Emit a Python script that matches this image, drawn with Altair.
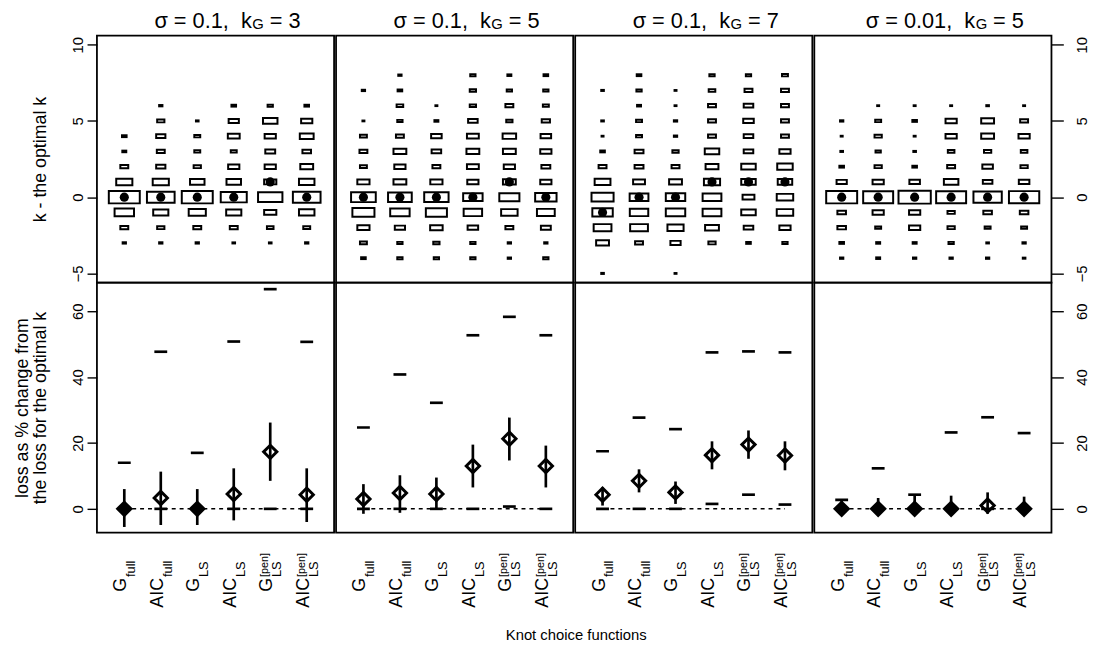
import altair as alt
import pandas as pd

FONT = "Liberation Sans"

METHODS = ["G_full", "AIC_full", "G_LS", "AIC_LS", "G_LS_pen", "AIC_LS_pen"]
LABEL_MAIN = ["G", "AIC", "G", "AIC", "G", "AIC"]
LABEL_SUB = ["full", "full", "LS", "LS", "LS", "LS"]
LABEL_SUP = ["", "", "", "", "[pen]", "[pen]"]

PANEL_SIGMA = ["0.1", "0.1", "0.1", "0.01"]
PANEL_KG = ["3", "5", "7", "5"]

K_VALUES = [-5, -4, -3, -2, -1, 0, 1, 2, 3, 4, 5, 6, 7, 8]

# frequency of (k - optimal k), aligned with K_VALUES
FREQ_P1 = {
    "G_full":     [0, 0, 10, 24, 59, 94, 49, 24, 12, 14, 0, 0, 0, 0],
    "AIC_full":   [0, 0, 10, 22, 46, 84, 49, 28, 24, 28, 22, 10, 0, 0],
    "G_LS":       [0, 0, 10, 24, 52, 94, 44, 22, 18, 18, 8, 0, 0, 0],
    "AIC_LS":     [0, 0, 8, 24, 46, 79, 44, 34, 18, 36, 31, 14, 0, 0],
    "G_LS_pen":   [0, 0, 8, 20, 37, 74, 37, 34, 30, 34, 44, 16, 0, 0],
    "AIC_LS_pen": [0, 0, 10, 21, 47, 84, 47, 39, 26, 42, 34, 14, 0, 0],
}
FREQ_P2 = {
    "G_full":     [0, 14, 21, 37, 67, 75, 37, 21, 24, 21, 6, 0, 10, 0],
    "AIC_full":   [0, 16, 16, 31, 59, 72, 39, 34, 39, 24, 16, 20, 14, 10],
    "G_LS":       [0, 16, 19, 38, 64, 74, 37, 24, 29, 32, 12, 6, 0, 0],
    "AIC_LS":     [0, 16, 16, 32, 56, 59, 34, 36, 39, 36, 29, 19, 19, 16],
    "G_LS_pen":   [0, 10, 10, 24, 50, 61, 39, 34, 39, 41, 19, 24, 16, 12],
    "AIC_LS_pen": [0, 16, 10, 30, 54, 65, 34, 27, 34, 32, 25, 18, 16, 14],
}
FREQ_P3 = {
    "G_full":     [8, 0, 39, 54, 62, 67, 48, 24, 14, 6, 8, 0, 8, 0],
    "AIC_full":   [0, 0, 24, 54, 56, 57, 36, 27, 27, 18, 18, 12, 16, 14],
    "G_LS":       [6, 0, 31, 49, 59, 59, 39, 24, 19, 10, 10, 6, 6, 0],
    "AIC_LS":     [0, 0, 22, 42, 57, 57, 49, 39, 44, 24, 24, 24, 20, 16],
    "G_LS_pen":   [0, 0, 14, 29, 44, 36, 44, 44, 29, 29, 32, 29, 24, 16],
    "AIC_LS_pen": [0, 0, 16, 34, 50, 50, 44, 47, 34, 24, 24, 24, 24, 18],
}
FREQ_P4 = {
    "G_full":     [0, 10, 14, 26, 26, 94, 31, 14, 8, 6, 10, 0, 0, 0],
    "AIC_full":   [0, 12, 12, 18, 34, 91, 34, 22, 16, 22, 18, 6, 0, 0],
    "G_LS":       [0, 10, 12, 34, 34, 98, 32, 14, 8, 6, 14, 6, 0, 0],
    "AIC_LS":     [0, 10, 16, 22, 22, 91, 44, 24, 20, 34, 34, 6, 0, 0],
    "G_LS_pen":   [0, 10, 8, 18, 26, 86, 29, 32, 22, 39, 39, 8, 0, 0],
    "AIC_LS_pen": [0, 8, 10, 18, 26, 92, 32, 22, 20, 34, 24, 6, 0, 0],
}
FREQS = [FREQ_P1, FREQ_P2, FREQ_P3, FREQ_P4]

MEDIAN_K = [
    [0, 0, 0, 0, 1, 0],
    [0, 0, 0, 0, 1, 0],
    [-1, 0, 0, 1, 1, 1],
    [0, 0, 0, 0, 0, 0],
]

LOSS_MEAN = [
    [0.0, 3.3, 0.0, 4.5, 17.3, 4.3],
    [3.0, 4.8, 4.5, 13.0, 21.3, 13.0],
    [4.3, 8.5, 5.0, 16.3, 19.5, 16.2],
    [0.0, 0.0, 0.0, 0.0, 1.0, 0.0],
]
LOSS_LO = [
    [-5.5, -4.9, -4.9, -3.5, 8.5, -4.0],
    [-1.5, -1.2, 0.0, 6.5, 14.7, 6.5],
    [1.0, 5.0, 1.5, 12.0, 15.2, 11.7],
    [-1.5, -1.5, -1.5, -1.5, -1.5, -1.5],
]
LOSS_HI = [
    [6.0, 11.3, 6.0, 12.3, 26.2, 12.3],
    [7.5, 10.2, 9.5, 19.5, 27.7, 19.2],
    [6.5, 12.0, 8.3, 20.5, 23.8, 20.5],
    [2.7, 3.3, 4.3, 4.0, 5.0, 3.7],
]
LOSS_MAX = [
    [14.0, 47.7, 17.0, 50.8, 66.7, 50.7],
    [24.7, 40.8, 32.2, 52.7, 58.3, 52.7],
    [17.5, 27.7, 24.2, 47.5, 47.8, 47.5],
    [2.7, 12.3, 4.3, 23.2, 27.8, 23.0],
]
LOSS_MIN = [
    [0.0, 0.0, 0.0, 0.0, 0.0, 0.0],
    [0.0, 0.0, 0.0, 0.0, 0.7, 0.0],
    [0.0, 0.0, 0.0, 1.5, 4.3, 1.3],
    [0.0, 0.0, 0.0, 0.0, 0.0, 0.0],
]

TOP_TITLE = "k - the optimal k"
BOT_TITLE = ["loss as % change from", "the loss for the optimal k"]
X_TITLE = "Knot choice functions"

# ---------------- layout constants ----------------
PANEL_W = 240
TOP_H = 250
BOT_H = 253
BOX_PATH = "M-1,-0.4L1,-0.4L1,0.4L-1,0.4Z"
NB = "\u00a0"
VIEW = alt.ViewBackground(stroke="black", strokeWidth=1.8)

XSCALE = alt.Scale(domain=[0.25, 6.75], nice=False, zero=False)
TOP_YS = alt.Scale(domain=[-5.6, 10.6], nice=False, zero=False)
BOT_YS = alt.Scale(domain=[-7.2, 68.7], nice=False, zero=False)

# ---------------- tables ----------------
rows = []
for p, freq in enumerate(FREQS):
    for i, m in enumerate(METHODS):
        for k, f in zip(K_VALUES, freq[m]):
            if f > 0:
                rows.append({"panel": p, "method": m, "xpos": i + 1, "k": k, "freq": f})
freq_df = pd.DataFrame(rows)

med_df = pd.DataFrame([
    {"panel": p, "method": m, "xpos": i + 1, "k": MEDIAN_K[p][i]}
    for p in range(4) for i, m in enumerate(METHODS)
])

loss_df = pd.DataFrame([
    {"panel": p, "method": m, "xpos": i + 1, "mean": LOSS_MEAN[p][i], "lo": LOSS_LO[p][i],
     "hi": LOSS_HI[p][i], "max": LOSS_MAX[p][i], "min": LOSS_MIN[p][i], "zero": 0.0}
    for p in range(4) for i, m in enumerate(METHODS)
])

label_df = pd.DataFrame({"xpos": list(range(1, 7)), "main": LABEL_MAIN,
                         "sub": LABEL_SUB, "sup": LABEL_SUP})

CW = {" ": 0.278, NB: 0.278, "=": 0.584, ".": 0.278, ",": 0.278, "k": 0.5,
      "σ": 0.6, "G": 0.778}


def tw(s, size):
    return sum(CW.get(c, 0.556) for c in s) * size


def title_rows(p):
    head = "σ" + NB + "=" + NB + PANEL_SIGMA[p] + "," + NB + NB + "k"
    tail = "=" + NB + PANEL_KG[p]
    gap = 6
    wh, wg, wt = tw(head, 22), tw("G", 15), tw(tail, 22) + gap
    anchor = PANEL_W / 2 + 12 + (wh - wg - wt) / 2
    return pd.DataFrame({"head": [head], "g": ["G"], "tail": [tail],
                         "xa": [anchor], "xg": [anchor + 0.5],
                         "xt": [anchor + wg + 0.5 + gap]})


def yaxis(p, values, title):
    common = dict(values=values, labelAngle=270, labelAlign="center", grid=False,
                  domain=False, ticks=True, labelFontSize=15, labelFont=FONT,
                  titleFont=FONT, titleFontSize=18, titleFontWeight="normal",
                  tickColor="black", tickWidth=1.4, labelColor="black", titleColor="black")
    if p == 0:
        return alt.Axis(orient="left", title=title, labelBaseline="bottom", tickSize=10,
                        labelPadding=2, titlePadding=21, titleLineHeight=18, **common)
    if p == 3:
        return alt.Axis(orient="right", title=None, labelBaseline="middle", tickSize=12,
                        labelPadding=18, **common)
    return None


def top_panel(p):
    ax = yaxis(p, [-5, 0, 5, 10], TOP_TITLE)
    X = alt.X("xpos:Q", scale=XSCALE, axis=None)
    boxes = alt.Chart(freq_df[freq_df.panel == p]).mark_point(
        shape=BOX_PATH, filled=False, color="black", strokeWidth=2, opacity=1
    ).encode(
        x=X,
        y=alt.Y("k:Q", scale=TOP_YS, axis=ax),
        size=alt.Size("freq:Q", scale=alt.Scale(type="pow", exponent=2, domain=[0, 90],
                                                range=[0, 900]), legend=None),
    )
    meds = alt.Chart(med_df[med_df.panel == p]).mark_point(
        shape="circle", filled=True, color="black", size=85, opacity=1
    ).encode(x=X, y=alt.Y("k:Q", scale=TOP_YS, axis=ax))
    td = alt.Chart(title_rows(p))
    head = td.mark_text(align="right", baseline="alphabetic", fontSize=22, font=FONT,
                        color="black").encode(x=alt.X("xa:Q", scale=None), y=alt.value(-8),
                                              text="head:N")
    g = td.mark_text(align="left", baseline="alphabetic", fontSize=15, font=FONT,
                     color="black").encode(x=alt.X("xg:Q", scale=None), y=alt.value(-7),
                                           text="g:N")
    tail = td.mark_text(align="left", baseline="alphabetic", fontSize=22, font=FONT,
                        color="black").encode(x=alt.X("xt:Q", scale=None), y=alt.value(-8),
                                              text="tail:N")
    return alt.layer(boxes, meds, head, g, tail).properties(
        width=PANEL_W, height=TOP_H, view=VIEW)


def bottom_panel(p):
    ax = yaxis(p, [0, 20, 40, 60], BOT_TITLE)
    X = alt.X("xpos:Q", scale=XSCALE, axis=None)
    base = alt.Chart(loss_df[loss_df.panel == p])
    zero = base.mark_rule(strokeDash=[4, 4], strokeWidth=1.5, color="black").encode(
        x=alt.X("min(xpos):Q", scale=XSCALE, axis=None), x2="max(xpos):Q",
        y=alt.Y("zero:Q", scale=BOT_YS, axis=ax))
    bars = base.mark_rule(strokeWidth=2.7, color="black").encode(
        x=X, y=alt.Y("lo:Q", scale=BOT_YS, axis=ax), y2="hi:Q")
    mx = base.mark_tick(orient="horizontal", size=13, thickness=2.7, color="black",
                        opacity=1).encode(x=X, y=alt.Y("max:Q", scale=BOT_YS, axis=ax))
    mn = base.mark_tick(orient="horizontal", size=13, thickness=2.7, color="black",
                        opacity=1).encode(x=X, y=alt.Y("min:Q", scale=BOT_YS, axis=ax))
    dia = base.mark_point(shape="diamond", filled=False, size=180, strokeWidth=3,
                          color="black", opacity=1).encode(
        x=X, y=alt.Y("mean:Q", scale=BOT_YS, axis=ax))
    dia_zero = base.transform_filter("datum.mean < 0.5").mark_point(
        shape="diamond", filled=True, size=180, color="black", opacity=1).encode(
        x=X, y=alt.Y("mean:Q", scale=BOT_YS, axis=ax))
    lab = alt.Chart(label_df)
    ya = 299
    lmain = lab.mark_text(angle=270, align="right", baseline="middle", dy=-3, fontSize=18,
                          font=FONT, color="black").encode(x=X, y=alt.value(ya), text="main:N")
    lsub = lab.mark_text(angle=270, align="left", baseline="middle", dx=1, dy=7, fontSize=13,
                         font=FONT, color="black").encode(x=X, y=alt.value(ya), text="sub:N")
    lsup = lab.transform_filter("datum.sup != ''").mark_text(
        angle=270, align="left", baseline="middle", dx=1, dy=-5, fontSize=11, font=FONT,
        color="black").encode(x=X, y=alt.value(ya), text="sup:N")
    return alt.layer(zero, bars, mx, mn, dia, dia_zero, lmain, lsub, lsup).properties(
        width=PANEL_W, height=BOT_H, view=VIEW)


cols = [alt.vconcat(top_panel(p), bottom_panel(p), spacing=0, bounds="flush")
        for p in range(4)]

chart = alt.hconcat(*cols, spacing=0).properties(
    padding={"left": 5, "top": -3, "right": 0, "bottom": 5},
    title=alt.Title(X_TITLE, orient="bottom", anchor="middle", dx=25, offset=20,
                    fontSize=15, font=FONT, fontWeight="normal", color="black"),
).configure(font=FONT, background="white").configure_view(
    stroke="black", strokeWidth=1.8)

chart.save("out.html", embed_options={"renderer": "svg", "actions": False})
